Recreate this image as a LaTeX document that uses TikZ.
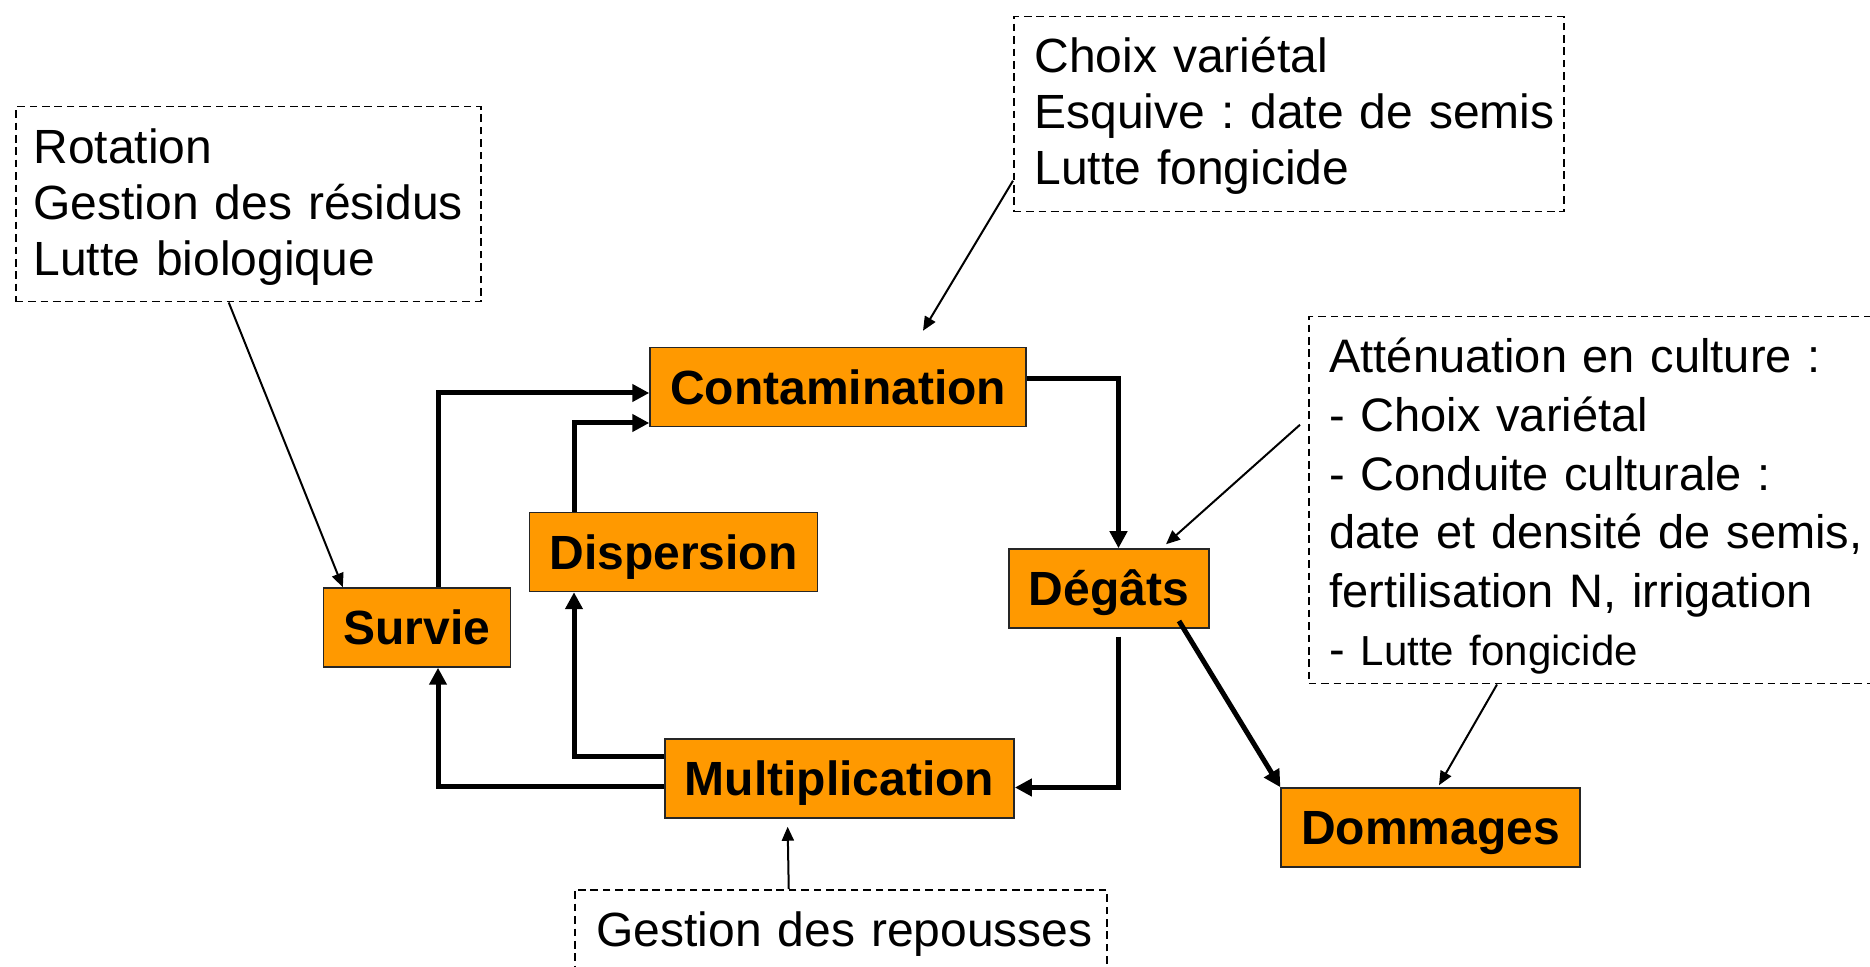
\documentclass[tikz,border=0pt]{standalone}
\usepackage{fontspec}
\setmainfont{Liberation Sans}
\frenchspacing
\usetikzlibrary{arrows.meta}
\definecolor{boxorange}{RGB}{255,153,0}
\tikzset{
    box/.style={draw=black!85, line width=0.75pt, fill=boxorange, inner xsep=10pt, inner ysep=0pt,
        minimum height=39.5pt, text height=17.2pt, text depth=0pt, font=\bfseries\fontsize{24}{28}\selectfont},
    note/.style={draw, dash pattern=on 3.8pt off 2.4pt, line width=0.75pt, anchor=north west, inner sep=0pt},
    notetext/.style={anchor=base west, inner sep=0pt, text width=290pt, align=left,
        font=\fontsize{24}{28}\selectfont},
    flow/.style={line width=2.5pt, -{Triangle[length=8.5pt,width=8.5pt]}},
    hint/.style={line width=1pt, -{Triangle[length=7pt,width=6pt]}}
}
\begin{document}
\begin{tikzpicture}
    [x=0.5pt, y=-0.5pt]
    \useasboundingbox (0,0) rectangle (1870,967);

    \node (surv) [box] at (417,627.5) {Survie};
    \node (disp) [box] at (673.5,552) {Dispersion};
    \node (cont) [box] at (838,387) {Contamination};
    \node (mult) [box] at (839.5,778.5) {Multiplication};
    \node (deg) [box] at (1109,588.5) {Dégâts};
    \node (dom) [box] at (1430.5,827.5) {Dommages};

    \node (rot) [note, minimum width=232.5pt, minimum height=97.5pt] at (15,106) {};
    \node (rottext) [notetext] at ([shift={(9pt,-29pt)}]rot.north west)
        {Rotation\\Gestion des résidus\\Lutte biologique};
    \node (esq) [note, minimum width=275pt, minimum height=97.5pt] at (1013,16) {};
    \node (esqtext) [notetext] at ([shift={(10.5pt,-28.5pt)}]esq.north west)
        {Choix variétal\\Esquive : date de semis\\Lutte fongicide};
    \node (att) [note, minimum width=300pt, minimum height=183.5pt] at (1308,316) {};
    \node (atttext) [notetext, font=\fontsize{23.5}{29.3}\selectfont] at ([shift={(10.5pt,-28.5pt)}]att.north west)
        {Atténuation en culture :\\- Choix variétal\\- Conduite culturale :\\date et densité de semis,\\fertilisation N, irrigation\\- {\fontsize{21}{29.3}\selectfont Lutte fongicide}};
    \node (rep) [note, minimum width=266pt, minimum height=50pt] at (574,889) {};
    \node (reptext) [notetext] at ([shift={(11pt,-28.5pt)}]rep.north west)
        {Gestion des repousses};

    \draw [flow] ([xshift=10.5pt]surv.north) |- ([yshift=-3pt]cont.west);
    \draw [flow] ([xshift=-49.75pt]disp.north) |- ([yshift=-18pt]cont.west);
    \draw [flow] ([yshift=10.75pt]mult.west) -| ([xshift=-49.75pt]disp.south);
    \draw [flow] ([yshift=-4.25pt]mult.west) -| ([xshift=10.5pt]surv.south);
    \draw [flow] ([yshift=4.25pt]cont.east) -| ([xshift=4.75pt]deg.north);
    \draw [flow, shorten <=4pt] ([xshift=4.75pt]deg.south) |- ([yshift=-4.5pt]mult.east);
    \draw [flow] ([shift={(35pt,-16.25pt)}]deg.center) -- (dom.north west);

    \draw [hint] ([xshift=-9.75pt]rot.south) -- ([xshift=10pt]surv.north west);
    \draw [hint] ([yshift=-33.25pt]esq.west) -- ([shift={(42.5pt,8pt)}]cont.north);
    \draw [hint] ([shift={(-4pt,37.75pt)}]att.west) -- ([shift={(28.5pt,2pt)}]deg.north);
    \draw [hint] ([xshift=94.5pt]att.south west) -- ([shift={(4.25pt,1pt)}]dom.north);
    \draw [hint, shorten >=4pt] ([xshift=-26pt]rep.north) -- ([xshift=-26pt]mult.south);
\end{tikzpicture}
\end{document}
